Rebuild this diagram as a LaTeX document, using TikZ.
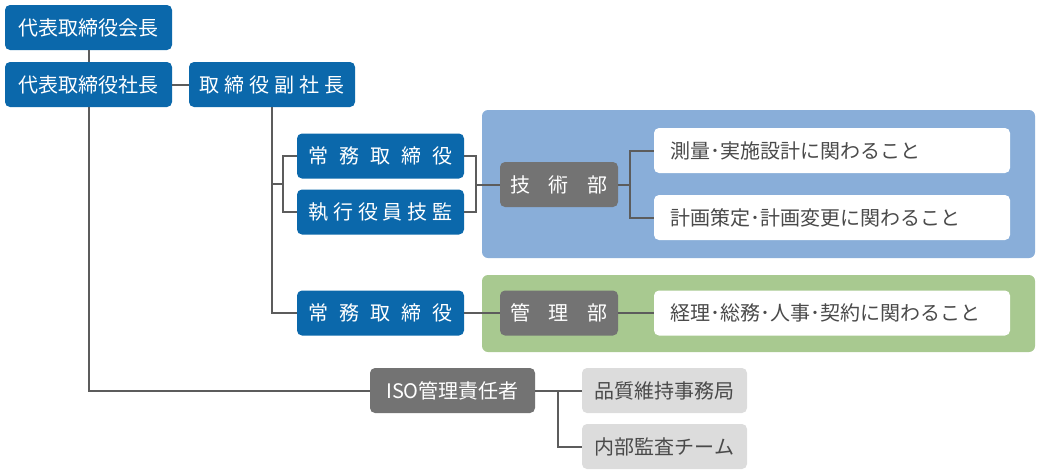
\documentclass[tikz,border=0pt]{standalone}
\usepackage{fontspec}
\setmainfont{Noto Sans CJK JP}
\usetikzlibrary{positioning}

\definecolor{orgblue}{HTML}{0B68AB}
\definecolor{orggray}{HTML}{737373}
\definecolor{orglight}{HTML}{DCDCDC}
\definecolor{orgtext}{HTML}{4A4A4A}
\definecolor{bandblue}{HTML}{89AED9}
\definecolor{bandgreen}{HTML}{A8C990}
\definecolor{orgline}{HTML}{5C5C5C}

% letter spaced label
\newcommand\wide[2]{{\addfontfeatures{LetterSpace=#1}#2}}

\begin{document}
\begin{tikzpicture}[x=1pt, y=-1pt,
  post/.style={rectangle, rounded corners=5pt, fill=orgblue, text=white,
    minimum width=167pt, minimum height=45pt, inner sep=0pt,
    font=\fontsize{20}{22}\selectfont},
  dept/.style={post, fill=orggray, minimum width=118pt},
  task/.style={rectangle, rounded corners=5pt, fill=white, text=orgtext,
    minimum height=45pt, text width=324pt, inner xsep=16pt, inner ysep=0pt,
    align=left, font=\fontsize{20}{22}\selectfont},
  staff/.style={post, fill=orglight, text=orgtext, minimum width=165pt},
  link/.style={draw=orgline, line width=2pt}]

  \useasboundingbox (0,0) rectangle (1041,475);

  % Coloured bands behind the departments
  \fill[bandblue, rounded corners=6pt] (482,110) rectangle (1035,258);
  \fill[bandgreen, rounded corners=6pt] (482,275) rectangle (1035,352);

  % Top management
  \node[post] (kaicho) at (88.5,27.5) {代表取締役会長};
  \node[post] (shacho) at (88.5,84.5) {代表取締役社長};
  \node[post, minimum width=166pt] (fuku) at (272,84.5) {\wide{25}{取締役副社長}};

  % Directors
  \node[post] (jomuA) at (380.5,156) {\wide{55}{常務取締役}};
  \node[post] (shikko) at (380.5,212) {\wide{24}{執行役員技監}};
  \node[post] (jomuB) at (380.5,313) {\wide{55}{常務取締役}};

  % Departments and their duties
  \node[dept] (gijutsu) at (559,184.5) {\wide{92}{技術部}};
  \node[task] (sokuryo) at (832,150.5) {測量･実施設計に関わること};
  \node[task] (keikaku) at (832,217.5) {計画策定･計画変更に関わること};
  \node[dept] (kanri) at (559,313) {\wide{92}{管理部}};
  \node[task] (keiri) at (832,313) {経理･総務･人事･契約に関わること};

  % ISO line
  \node[dept, minimum width=165pt] (iso) at (452.5,390.5) {ISO管理責任者};
  \node[staff] (hinshitsu) at (664.5,390.5) {品質維持事務局};
  \node[staff] (naibu) at (664.5,446.5) {内部監査チーム};

  % Branch points
  \coordinate (lb) at (283,184);
  \coordinate (rb) at (476,184.5);
  \coordinate (gb) at (630,184.5);
  \coordinate (ib) at (558,390.5);

  % Connectors
  \draw[link] (kaicho) -- (shacho);
  \draw[link] (shacho) -- (fuku);
  \draw[link] (shacho.south) |- (iso.west);
  \draw[link] (fuku.south) |- (jomuB.west);
  \draw[link] (fuku.south |- lb) -- (lb);
  \draw[link] (jomuA.west) -| (lb) |- (shikko.west);
  \draw[link] (jomuA.east) -| (rb) |- (shikko.east);
  \draw[link] (rb) -- (gijutsu.west);
  \draw[link] (gijutsu.east) -- (gb);
  \draw[link] (sokuryo.west) -| (gb) |- (keikaku.west);
  \draw[link] (jomuB) -- (kanri);
  \draw[link] (kanri) -- (keiri);
  \draw[link] (iso) -- (hinshitsu);
  \draw[link] (ib) |- (naibu.west);

\end{tikzpicture}
\end{document}
